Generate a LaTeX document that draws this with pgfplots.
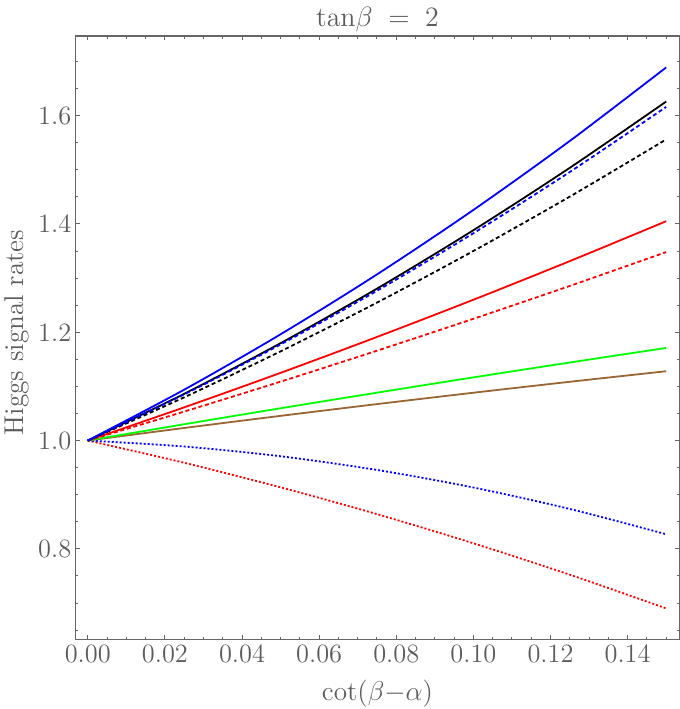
\RequirePackage{fix-cm}
\documentclass[border=0pt]{standalone}
\usepackage{pgfplots}
\pgfplotsset{compat=1.18}
\definecolor{framegray}{gray}{0.4}
\definecolor{textgray}{gray}{0.36}
\definecolor{mbrown}{rgb}{0.6,0.4,0.2}
\begin{document}
\begin{tikzpicture}
\useasboundingbox (-37.85pt,-34.85pt) rectangle (302.15pt,319.65pt);
\begin{axis}[
  at={(0,0)}, anchor=south west,
  scale only axis, width=301.8pt, height=301.65pt,
  xmin=-0.00313, xmax=0.1534, ymin=0.633, ymax=1.747,
  xtick={0,0.02,0.04,0.06,0.08,0.10,0.12,0.14},
  xticklabels={0.00,0.02,0.04,0.06,0.08,0.10,0.12,0.14},
  ytick={0.8,1.0,1.2,1.4,1.6},
  yticklabels={0.8,1.0,1.2,1.4,1.6},
  minor xtick={0.005,0.01,0.015,0.025,0.03,0.035,0.045,0.05,0.055,0.065,0.07,0.075,0.085,0.09,0.095,0.105,0.11,0.115,0.125,0.13,0.135,0.145,0.15},
  minor ytick={0.65,0.7,0.75,0.85,0.9,0.95,1.05,1.1,1.15,1.25,1.3,1.35,1.45,1.5,1.55,1.65,1.7},
  tick align=inside,
  major tick length=2pt, minor tick length=1.3pt,
  axis line style={framegray, line width=0.6pt},
  every tick/.style={framegray, line width=0.5pt},
  ticklabel style={font=\fontsize{13.2}{15}\selectfont, text=textgray},
  xticklabel style={yshift=-0.6pt, inner sep=2pt},
  yticklabel style={xshift=1.3pt},
  label style={font=\fontsize{13.6}{15}\selectfont, text=textgray},
  xlabel={$\cot(\beta{-}\alpha)$},
  ylabel={Higgs signal rates},
  xlabel style={at={(axis description cs:0.5,0)}, anchor=base, yshift=-30.8pt, inner sep=0pt},
  ylabel style={at={(axis description cs:-0.0971,0.5086)}, anchor=center, inner sep=0pt},
  every axis title shift=0pt,
  title={$\tan\!\beta\;=\;2$},
  title style={at={(axis description cs:0.5,1)}, anchor=base, yshift=5pt, inner sep=0pt, font=\fontsize{14}{16}\selectfont, text=textgray},
]
\addplot[red, line width=0.9pt, dash pattern=on 1pt off 1pt, smooth] coordinates {
(0,1) (0.025,0.959) (0.05,0.9136) (0.075,0.8641) (0.1,0.8103) (0.125,0.7523) (0.15,0.690)};
\addplot[blue, line width=0.9pt, dash pattern=on 1pt off 1pt, smooth] coordinates {
(0,1) (0.025,0.989) (0.05,0.971) (0.075,0.9457) (0.1,0.9133) (0.125,0.8737) (0.15,0.827)};
\addplot[mbrown, line width=0.9pt, smooth] coordinates {
(0,1) (0.025,1.0232) (0.05,1.0456) (0.075,1.0673) (0.1,1.0883) (0.125,1.1085) (0.15,1.128)};
\addplot[green, line width=0.9pt, smooth] coordinates {
(0,1) (0.025,1.0301) (0.05,1.0596) (0.075,1.0884) (0.1,1.1166) (0.125,1.1441) (0.15,1.171)};
\addplot[red, line width=0.9pt, dash pattern=on 2pt off 1.4pt, smooth] coordinates {
(0,1) (0.025,1.0535) (0.05,1.1088) (0.075,1.1659) (0.1,1.2248) (0.125,1.2855) (0.15,1.348)};
\addplot[red, line width=0.9pt, smooth] coordinates {
(0,1) (0.025,1.0613) (0.05,1.125) (0.075,1.1913) (0.1,1.26) (0.125,1.3313) (0.15,1.405)};
\addplot[black, line width=0.9pt, dash pattern=on 2pt off 1.4pt, smooth] coordinates {
(0,1) (0.025,1.0798) (0.05,1.1647) (0.075,1.2547) (0.1,1.35) (0.125,1.4504) (0.15,1.556)};
\addplot[black, line width=0.9pt, smooth] coordinates {
(0,1) (0.025,1.0863) (0.05,1.1798) (0.075,1.2805) (0.1,1.3884) (0.125,1.5036) (0.15,1.626)};
\addplot[blue, line width=0.9pt, dash pattern=on 2pt off 1.4pt, smooth] coordinates {
(0,1) (0.025,1.0852) (0.05,1.1774) (0.075,1.2766) (0.1,1.3828) (0.125,1.4959) (0.15,1.616)};
\addplot[blue, line width=0.9pt, smooth] coordinates {
(0,1) (0.025,1.0939) (0.05,1.1962) (0.075,1.3068) (0.1,1.4258) (0.125,1.5532) (0.15,1.689)};
\end{axis}
\end{tikzpicture}
\end{document}
